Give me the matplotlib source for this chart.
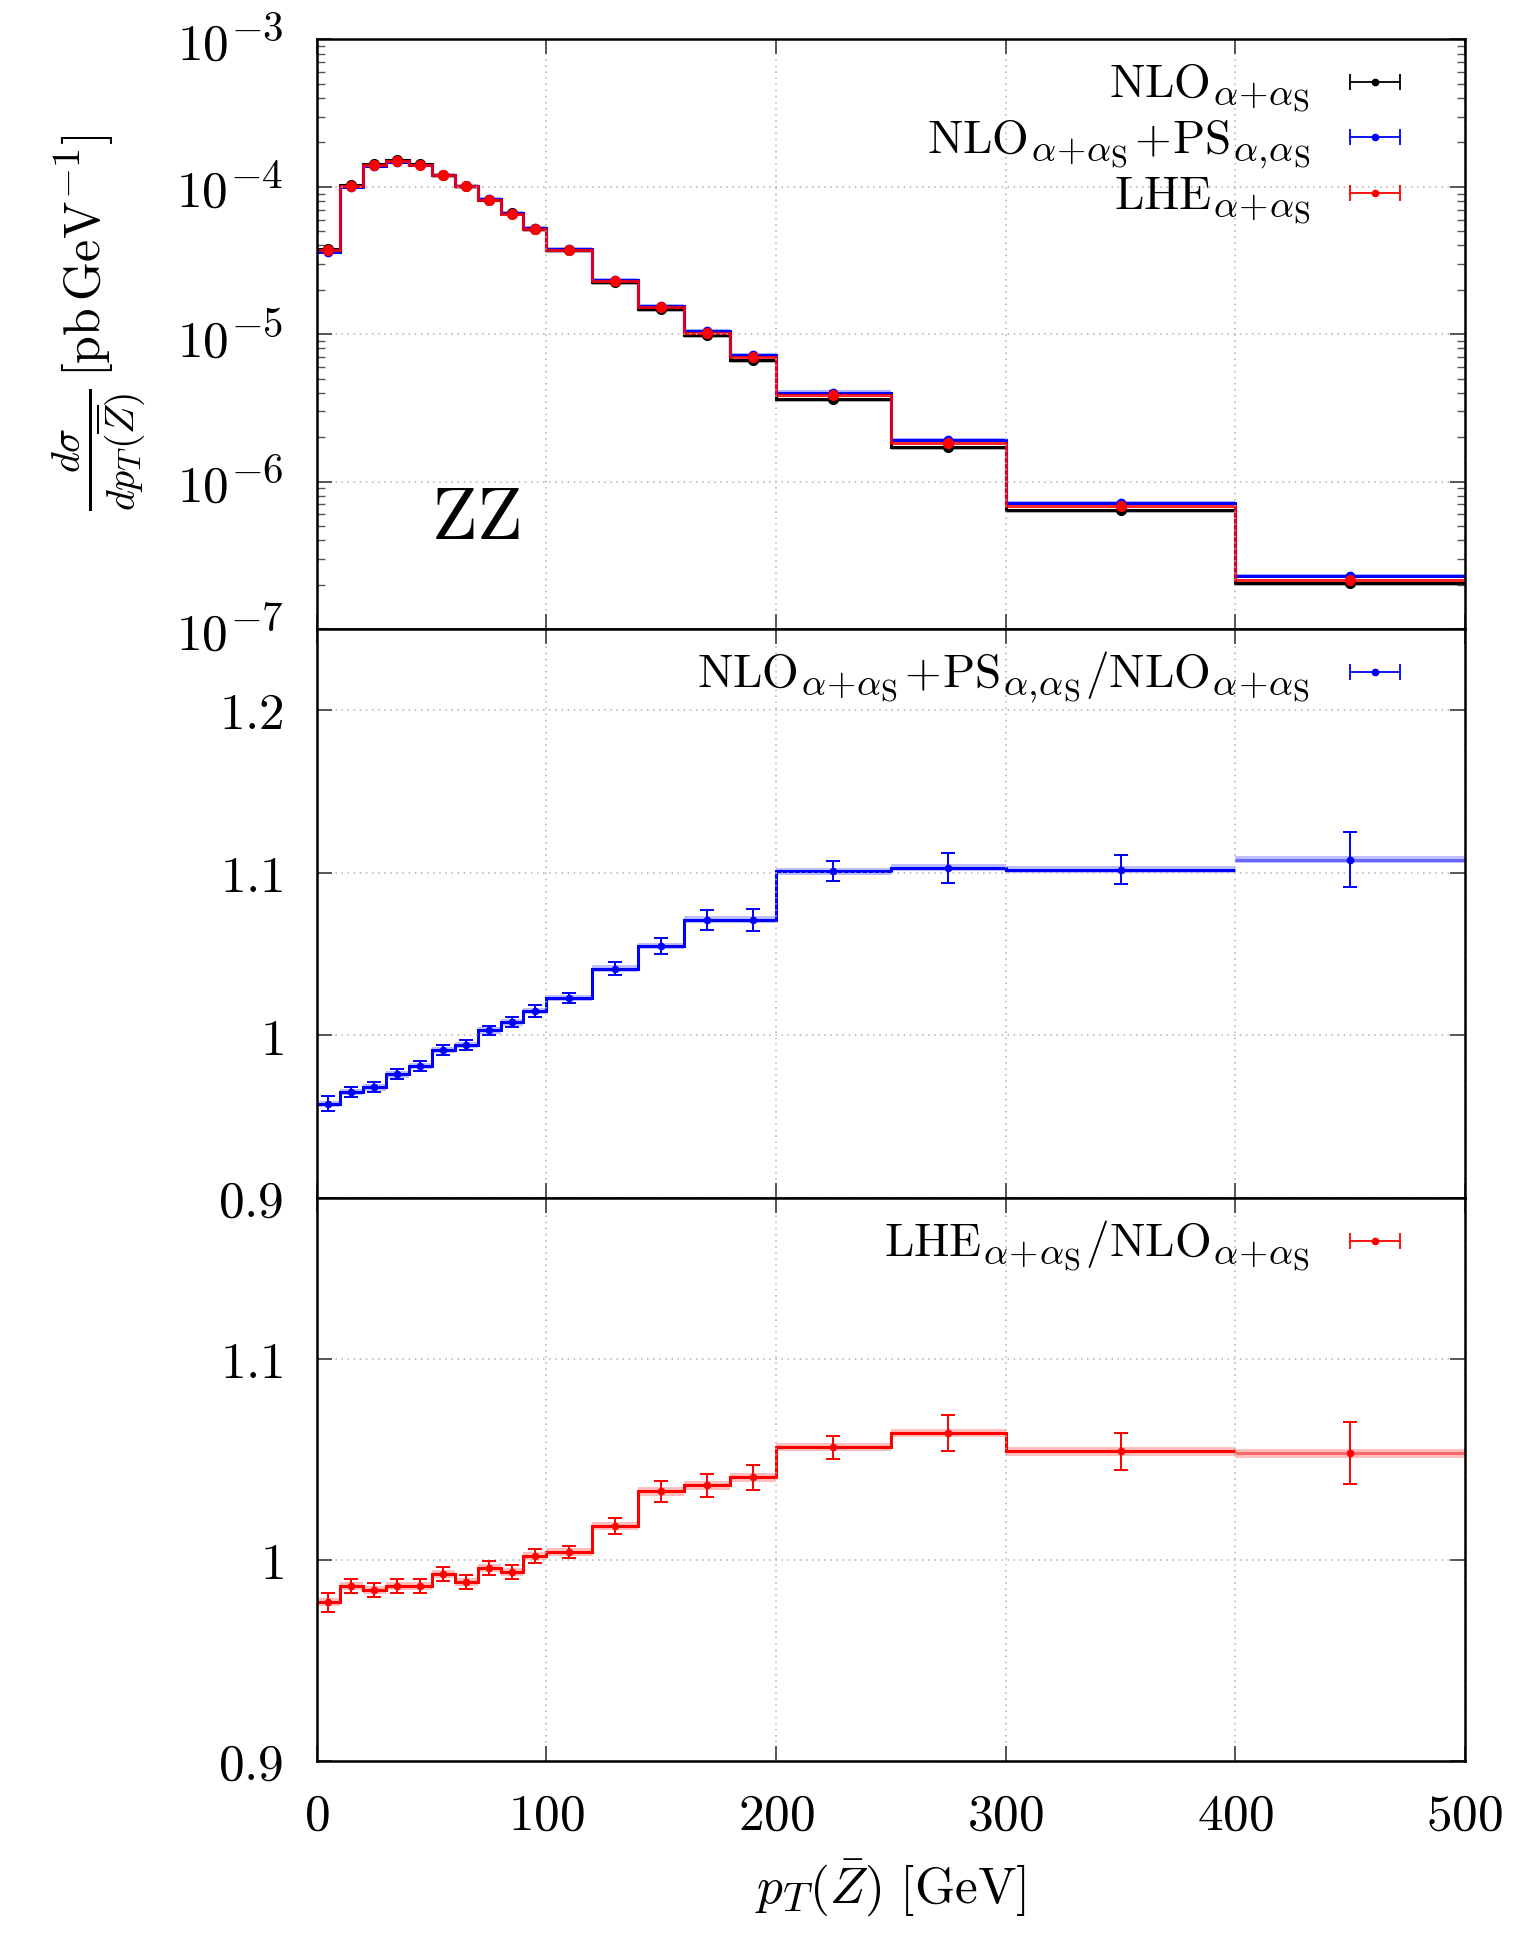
import numpy as np
import matplotlib
matplotlib.use('Agg')
import matplotlib.pyplot as plt
import matplotlib._mathtext as mathtext_internals
from matplotlib.ticker import FixedLocator, LogLocator, NullFormatter, FuncFormatter

plt.rcParams['mathtext.fontset'] = 'cm'
plt.rcParams['font.family'] = ['DejaVu Serif']
plt.rcParams['axes.formatter.use_mathtext'] = True
# LaTeX-like (larger) sub/superscripts
mathtext_internals.SHRINK_FACTOR = 0.8

# bin edges of pT(Zbar) in GeV
edges = [0, 10, 20, 30, 40, 50, 60, 70, 80, 90, 100, 120, 140, 160, 180, 200, 250, 300, 400, 500]

# d sigma / d pT  [pb/GeV]
nlo = [3.80e-5, 1.03e-4, 1.42e-4, 1.52e-4, 1.43e-4, 1.21e-4, 1.02e-4, 8.20e-5, 6.60e-5, 5.15e-5,
       3.70e-5, 2.25e-5, 1.48e-5, 9.80e-6, 6.70e-6, 3.65e-6, 1.72e-6, 6.45e-7, 2.05e-7]
nlo_ps = [3.64e-5, 9.94e-5, 1.375e-4, 1.484e-4, 1.403e-4, 1.199e-4, 1.014e-4, 8.22e-5, 6.65e-5, 5.23e-5,
          3.79e-5, 2.34e-5, 1.56e-5, 1.05e-5, 7.18e-6, 4.02e-6, 1.90e-6, 7.11e-7, 2.27e-7]
lhe = [3.72e-5, 1.017e-4, 1.399e-4, 1.50e-4, 1.411e-4, 1.202e-4, 1.009e-4, 8.17e-5, 6.56e-5, 5.16e-5,
       3.71e-5, 2.29e-5, 1.53e-5, 1.016e-5, 6.97e-6, 3.85e-6, 1.83e-6, 6.80e-7, 2.16e-7]
rel_err = [0.015, 0.01, 0.01, 0.01, 0.01, 0.01, 0.01, 0.01, 0.01, 0.012,
           0.012, 0.015, 0.015, 0.015, 0.015, 0.02, 0.02, 0.02, 0.03]

# ratios
ratio_ps = [0.958, 0.965, 0.968, 0.976, 0.981, 0.991, 0.994, 1.003, 1.008, 1.015,
            1.023, 1.041, 1.055, 1.071, 1.071, 1.101, 1.103, 1.102, 1.108]
ratio_ps_err = [0.0045, 0.003, 0.003, 0.003, 0.003, 0.003, 0.003, 0.003, 0.003, 0.0035,
                0.003, 0.004, 0.005, 0.006, 0.007, 0.006, 0.009, 0.009, 0.017]
ratio_lhe = [0.979, 0.987, 0.985, 0.987, 0.987, 0.993, 0.989, 0.996, 0.994, 1.002,
             1.004, 1.017, 1.034, 1.037, 1.041, 1.056, 1.063, 1.054, 1.053]
ratio_lhe_err = [0.0047, 0.0035, 0.0033, 0.0035, 0.0035, 0.0033, 0.0035, 0.0033, 0.0035, 0.0035,
                 0.003, 0.004, 0.005, 0.0056, 0.0063, 0.0056, 0.0088, 0.0093, 0.0154]

edges = np.array(edges, dtype=float)
centers = 0.5 * (edges[1:] + edges[:-1])
BLUE = '#0000ff'
RED = '#ff0000'
TICK_FS = 37
LEG_FS = 34

fig = plt.figure(figsize=(15.38, 19.34), dpi=100)
ax1 = fig.add_axes([0.206, 0.6748, 0.7465, 0.3048])
ax2 = fig.add_axes([0.206, 0.3806, 0.7465, 0.2942])
ax3 = fig.add_axes([0.206, 0.0895, 0.7465, 0.2911])


def band(ax, vals, lo, hi, color, alpha):
    v = np.array(vals)
    ax.fill_between(edges, np.append(v * lo, v[-1] * lo), np.append(v * hi, v[-1] * hi),
                    step='post', color=color, alpha=alpha, lw=0)


def legend_entry(ax, y, label, color):
    ax.text(0.865, y, label, transform=ax.transAxes, ha='right', va='baseline', fontsize=LEG_FS)
    yc = y + (0.026 if ax is ax1 else 0.027)
    ax.plot([0.900, 0.943], [yc, yc], color=color, lw=1.3, transform=ax.transAxes, clip_on=False)
    ax.plot([0.900, 0.943], [yc, yc], ls='none', marker='|', ms=12, mew=1.3, color=color,
            transform=ax.transAxes)
    ax.plot([0.9215], [yc], ls='none', marker='o', ms=4.5, color=color, transform=ax.transAxes)


SUB = r'{\alpha\!+\!\alpha_\mathrm{S}}'
NLO = r'\mathrm{NLO}_' + SUB
PS = r'\mathrm{PS}_{\alpha,\!\alpha_\mathrm{S}}'
LHE = r'\mathrm{LHE}_' + SUB

# ---- top panel ----
band(ax1, nlo, 0.955, 1.0, 'grey', 0.6)
band(ax1, nlo_ps, 1.0, 1.035, BLUE, 0.3)
ax1.stairs(nlo, edges, color='black', lw=2.2, baseline=None)
ax1.stairs(nlo_ps, edges, color=BLUE, lw=2.2, baseline=None)
ax1.stairs(lhe, edges, color=RED, lw=2.2, alpha=0.85, baseline=None)
for vals, col, ms in [(nlo, 'black', 7), (nlo_ps, BLUE, 6), (lhe, RED, 7)]:
    v = np.array(vals)
    ax1.errorbar(centers, v, yerr=v * np.array(rel_err), fmt='o', color=col, ms=ms,
                 capsize=3, elinewidth=1.5, capthick=1.5)
ax1.set_yscale('log')
ax1.set_ylim(1e-7, 1e-3)
ax1.yaxis.set_major_locator(LogLocator(base=10, numticks=10))
ax1.yaxis.set_minor_locator(LogLocator(base=10, subs=np.arange(2, 10), numticks=20))
ax1.yaxis.set_minor_formatter(NullFormatter())
ax1.yaxis.set_major_formatter(FuncFormatter(lambda v, p: r'$10^{%d}$' % round(np.log10(v))))
ax1.text(69, 10 ** -6.25, r'$\mathrm{ZZ}$', fontsize=54, ha='center', va='center')
fig.text(99 / 1538, 0.833, r'$\frac{d\sigma}{dp_T(\overline{Z})}\,[\mathrm{pb\,GeV^{-1}}]$',
         rotation=90, ha='center', va='center', fontsize=36)
legend_entry(ax1, 0.902, '$' + NLO + '$', 'black')
legend_entry(ax1, 0.808, '$' + NLO + r'\!+\!' + PS + '$', BLUE)
legend_entry(ax1, 0.713, '$' + LHE + '$', RED)

# ---- ratio panels ----
for ax, rat, err, col in [(ax2, ratio_ps, ratio_ps_err, BLUE), (ax3, ratio_lhe, ratio_lhe_err, RED)]:
    band(ax, rat, 0.998, 1.002, col, 0.25)
    ax.stairs(rat[:-1], edges[:-1], color=col, lw=2.2, baseline=None)
    ax.stairs(rat[-1:], edges[-2:], color=col, lw=2.2, alpha=0.45, baseline=None)
    ax.errorbar(centers, rat, yerr=err, fmt='o', color=col, ms=4.5, capsize=5,
                elinewidth=1.4, capthick=1.4)
    ax.yaxis.set_major_formatter(FuncFormatter(lambda v, p: r'$%g$' % round(v, 2)))

ax2.set_ylim(0.9, 1.25)
ax2.yaxis.set_major_locator(FixedLocator([0.9, 1.0, 1.1, 1.2]))
ax3.set_ylim(0.9, 1.18)
ax3.yaxis.set_major_locator(FixedLocator([0.9, 1.0, 1.1]))
legend_entry(ax2, 0.898, '$' + NLO + r'\!+\!' + PS + '/' + NLO + '$', BLUE)
legend_entry(ax3, 0.897, '$' + LHE + '/' + NLO + '$', RED)

for ax in (ax1, ax2, ax3):
    ax.set_xlim(0, 500)
    ax.xaxis.set_major_locator(FixedLocator([0, 100, 200, 300, 400, 500]))
    ax.xaxis.set_major_formatter(FuncFormatter(lambda v, p: r'$%d$' % v))
    ax.grid(True, which='major', ls=(0, (1, 3)), color='#b0b0b0', lw=1.1)
    ax.tick_params(which='major', direction='in', top=True, right=True, length=11, width=1.4,
                   color='#555555', labelsize=TICK_FS, pad=24)
    ax.tick_params(which='minor', direction='in', top=True, right=True, length=6, width=1.0,
                   color='#555555')
    for s in ax.spines.values():
        s.set_linewidth(1.8)
ax1.tick_params(labelbottom=False)
ax2.tick_params(labelbottom=False)
ax3.tick_params(axis='x', pad=22)
ax3.set_xlabel(r'$p_T(\bar{Z})\ [\mathrm{GeV}]$', fontsize=37, labelpad=12)

fig.savefig('out.png', dpi=100)
